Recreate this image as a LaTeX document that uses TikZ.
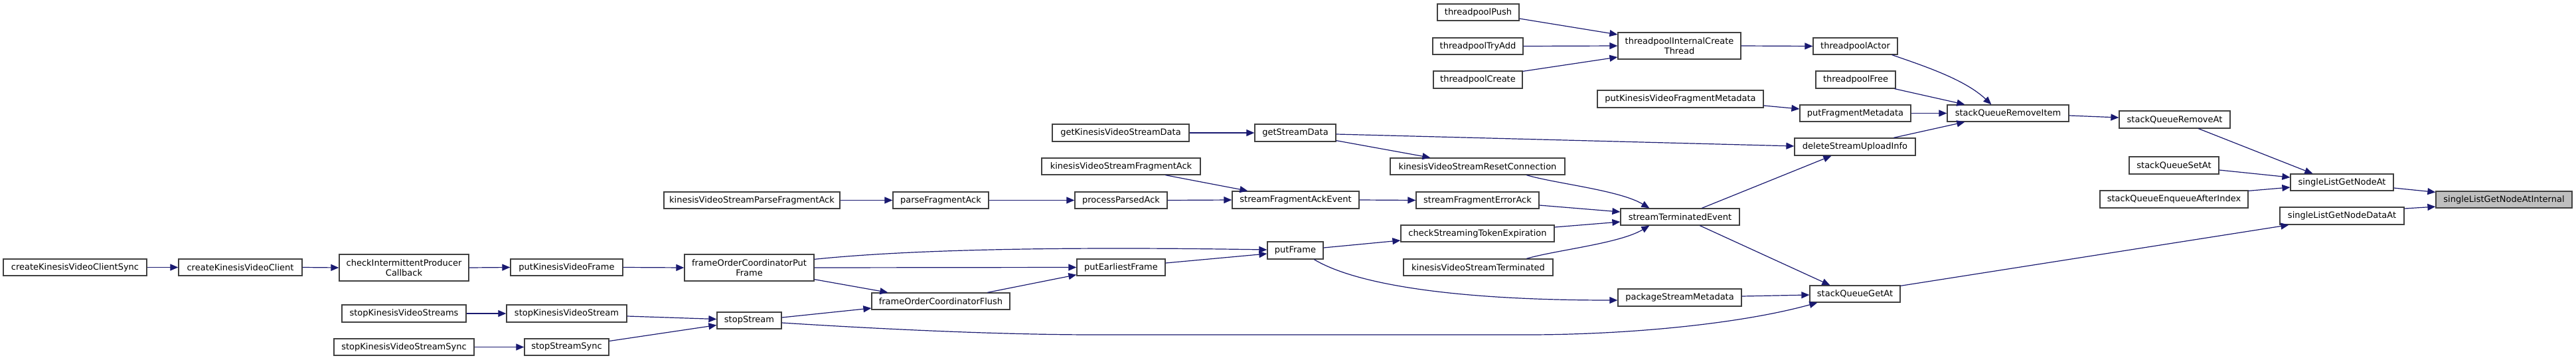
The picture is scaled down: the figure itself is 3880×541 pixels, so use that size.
\documentclass[tikz,border=0pt]{standalone}
\usepackage{fontspec}
\setmainfont{DejaVu Sans}
\usetikzlibrary{arrows.meta,calc}
\definecolor{edgecol}{HTML}{191970}
\definecolor{boxcol}{HTML}{404040}
\definecolor{hifill}{HTML}{BFBFBF}
\tikzset{
  fn/.style={draw=boxcol, line width=1.3pt, fill=white, inner sep=0pt, minimum height=25pt,
    font=\fontsize{13}{15}\selectfont, align=center, text=black},
  fntwo/.style={fn, minimum height=40pt},
  hi/.style={fn, fill=hifill},
  edge/.style={draw=edgecol, line width=1.2pt, -{Triangle[length=12pt,width=10pt]}},
}
\begin{document}
\begin{tikzpicture}[x=1pt,y=-1pt]
\fill[white] (0,0) rectangle (3880,541);
\useasboundingbox (0,0) rectangle (3880,541);
% nodes
\node[fn, minimum width=216] (A1) at (113,402.5) {createKinesisVideoClientSync};
\node[fn, minimum width=186] (A2) at (362,402.5) {createKinesisVideoClient};
\node[fntwo, minimum width=195] (A3) at (608.5,403) {checkIntermittentProducer\\Callback};
\node[fn, minimum width=169] (A4) at (853.5,402.5) {putKinesisVideoFrame};
\node[fn, minimum width=187, minimum height=26] (B1) at (608.5,472) {stopKinesisVideoStreams};
\node[fn, minimum width=181, minimum height=26] (B2) at (853.5,472) {stopKinesisVideoStream};
\node[fn, minimum width=211] (C1) at (608.5,522.5) {stopKinesisVideoStreamSync};
\node[fn, minimum width=127] (C2) at (853.5,522.5) {stopStreamSync};
\node[fn, minimum width=265] (D1) at (1132.5,301.5) {kinesisVideoStreamParseFragmentAck};
\node[fn, minimum width=144] (D2) at (1417,301.5) {parseFragmentAck};
\node[fn, minimum width=139] (D3) at (1688.5,301.5) {processParsedAck};
\node[fn, minimum width=191, minimum height=26] (D4) at (1951.5,301) {streamFragmentAckEvent};
\node[fn, minimum width=239] (E) at (1688.5,250.5) {kinesisVideoStreamFragmentAck};
\node[fn, minimum width=206, minimum height=26] (F1) at (1688,200) {getKinesisVideoStreamData};
\node[fn, minimum width=122, minimum height=26] (F2) at (1951,200) {getStreamData};
\node[fntwo, minimum width=195] (G1) at (1128.5,403) {frameOrderCoordinatorPut\\Frame};
\node[fn, minimum width=133] (G2) at (1688.5,402.5) {putEarliestFrame};
\node[fn, minimum width=208] (G3) at (1417,453.5) {frameOrderCoordinatorFlush};
\node[fn, minimum width=84, minimum height=26] (G4) at (1951,377) {putFrame};
\node[fn, minimum width=97] (H) at (1128.5,482.5) {stopStream};
\node[fn, minimum width=123] (I1) at (2226.5,18.5) {threadpoolPush};
\node[fn, minimum width=136] (I2) at (2226,69.5) {threadpoolTryAdd};
\node[fn, minimum width=134, minimum height=26] (I3) at (2226,120) {threadpoolCreate};
\node[fntwo, minimum width=185] (I4) at (2529.5,69) {threadpoolInternalCreate\\Thread};
\node[fn, minimum width=127] (I5) at (2794.5,69.5) {threadpoolActor};
\node[fn, minimum width=120, minimum height=26] (I6) at (2795,120) {threadpoolFree};
\node[fn, minimum width=250, minimum height=26] (J1) at (2531,149) {putKinesisVideoFragmentMetadata};
\node[fn, minimum width=167] (J2) at (2794.5,170.5) {putFragmentMetadata};
\node[fn, minimum width=183] (K) at (3024.5,170.5) {stackQueueRemoveItem};
\node[fn, minimum width=182, minimum height=26] (L) at (2794,221) {deleteStreamUploadInfo};
\node[fn, minimum width=263] (M) at (2225.5,250.5) {kinesisVideoStreamResetConnection};
\node[fn, minimum width=185] (N1) at (2225.5,301.5) {streamFragmentErrorAck};
\node[fn, minimum width=179] (N2) at (2530.5,326.5) {streamTerminatedEvent};
\node[fn, minimum width=231] (N3) at (2225.5,351.5) {checkStreamingTokenExpiration};
\node[fn, minimum width=225] (N4) at (2226.5,402.5) {kinesisVideoStreamTerminated};
\node[fn, minimum width=186, minimum height=26] (P) at (2530,448) {packageStreamMetadata};
\node[fn, minimum width=136] (Q) at (2794,442.5) {stackQueueGetAt};
\node[fn, minimum width=167, minimum height=26] (R1) at (3275.5,180) {stackQueueRemoveAt};
\node[fn, minimum width=135, minimum height=26] (R2) at (3274.5,249) {stackQueueSetAt};
\node[fn, minimum width=155] (R3) at (3527.5,274.5) {singleListGetNodeAt};
\node[fn, minimum width=223, minimum height=26] (R4) at (3274.5,300) {stackQueueEnqueueAfterIndex};
\node[fn, minimum width=187, minimum height=26] (R5) at (3527.5,325) {singleListGetNodeDataAt};
\node[hi, minimum width=205] (S) at (3771.5,300.5) {singleListGetNodeAtInternal};
% edges
\draw[edge] (A1.east) -- (A2.west);
\draw[edge] (A2.east) -- (A3.west);
\draw[edge] (A3.east) -- (A4.west);
\draw[edge] (A4.east) -- (G1.west);
\draw[edge] (B1.east) -- (B2.west);
\draw[edge] ($(B2.east)+(0,4)$) -- ($(H.west)+(0,-2)$);
\draw[edge] (C1.east) -- (C2.west);
\draw[edge] ($(C2.east)+(0,-9)$) -- ($(H.west)+(0,7)$);
\draw[edge] (D1.east) -- (D2.west);
\draw[edge] (D2.east) -- (D3.west);
\draw[edge] (D3.east) -- (D4.west);
\draw[edge] ($(E.south west)+(187,0)$) -- ($(D4.north west)+(24,0)$);
\draw[edge] ($(G1.north east)+(0,8)$) .. controls (1396,373) and (1659,372) .. ($(G4.west)+(0,-1)$);
\draw[edge] (G1.east) -- (G2.west);
\draw[edge] ($(G1.south east)+(0,-3)$) -- ($(G3.north west)+(25,0)$);
\draw[edge] ($(G3.north west)+(175,0)$) -- ($(G2.south west)+(0,-2)$);
\draw[edge] ($(G2.east)+(0,-6.5)$) -- ($(G4.west)+(0,5)$);
\draw[edge] ($(H.east)+(0,-4.5)$) -- ($(G3.west)+(0,10.5)$);
\draw[edge] ($(H.east)+(0,3.5)$) .. controls (1320,495) and (1500,504) .. (1650,504) -- (2300,504)
  .. controls (2450,504) and (2620,488) .. ($(Q.south west)+(12,0)$);
\draw[edge] (F1.east) -- (F2.west);
\draw[edge] ($(F2.east)+(0,2)$) -- ($(L.west)+(0,-1)$);
\draw[edge] ($(F2.south east)+(0,-2)$) -- ($(M.north west)+(61,0)$);
\draw[edge] (D4.east) -- (N1.west);
\draw[edge] ($(G4.east)+(0,-4)$) -- ($(N3.west)+(0,10.5)$);
\draw[edge] ($(G4.south west)+(71,0)$) .. controls (2045,430) and (2200,452) .. ($(P.west)+(0,4)$);
\draw[edge] ($(M.south west)+(206,0)$) .. controls +(45,13) and +(-45,-27) .. ($(N2.north west)+(44,0)$);
\draw[edge] ($(N1.east)+(0,7.5)$) -- ($(N2.west)+(0,-7.5)$);
\draw[edge] ($(N3.east)+(0,-9.5)$) -- ($(N2.west)+(0,7.5)$);
\draw[edge] ($(N4.north west)+(186,0)$) .. controls +(45,-13) and +(-45,27) .. ($(N2.south west)+(44,0)$);
\draw[edge] ($(N2.north west)+(123,0)$) -- ($(L.south west)+(56,0)$);
\draw[edge] ($(N2.south west)+(120,0)$) -- ($(Q.north west)+(31,0)$);
\draw[edge] ($(P.east)+(0,-2)$) -- ($(Q.west)+(0,1.5)$);
\draw[edge] ($(I1.east)+(0,9.5)$) -- ($(I4.west)+(0,-17)$);
\draw[edge] (I2.east) -- (I4.west);
\draw[edge] ($(I3.north east)+(0,1)$) -- ($(I4.west)+(0,17)$);
\draw[edge] (I4.east) -- (I5.west);
\draw[edge] ($(I5.south east)+(-9,0)$) .. controls (2900,100) and (2960,120) .. ($(K.north west)+(67,0)$);
\draw[edge] ($(I6.south east)+(-2,0)$) -- ($(K.north west)+(27,0)$);
\draw[edge] ($(J1.east)+(0,10)$) -- ($(J2.west)+(0,-6.5)$);
\draw[edge] (J2.east) -- (K.west);
\draw[edge] ($(L.north west)+(150,0)$) -- ($(K.south west)+(27,0)$);
\draw[edge] ($(K.east)+(0,3.5)$) -- ($(R1.west)+(0,-3)$);
\draw[edge] ($(R1.south west)+(120,0)$) -- ($(R3.north west)+(34,0)$);
\draw[edge] ($(R2.east)+(0,7)$) -- ($(R3.west)+(0,-7.5)$);
\draw[edge] ($(R4.north east)+(0,1)$) -- ($(R3.west)+(0,7.5)$);
\draw[edge] ($(R3.east)+(0,8.5)$) -- ($(S.north west)+(0,2)$);
\draw[edge] ($(Q.north east)+(0,1)$) -- ($(R5.south west)+(14,0)$);
\draw[edge] ($(R5.east)+(0,-11)$) -- ($(S.south west)+(0,-2.5)$);
\end{tikzpicture}
\end{document}
